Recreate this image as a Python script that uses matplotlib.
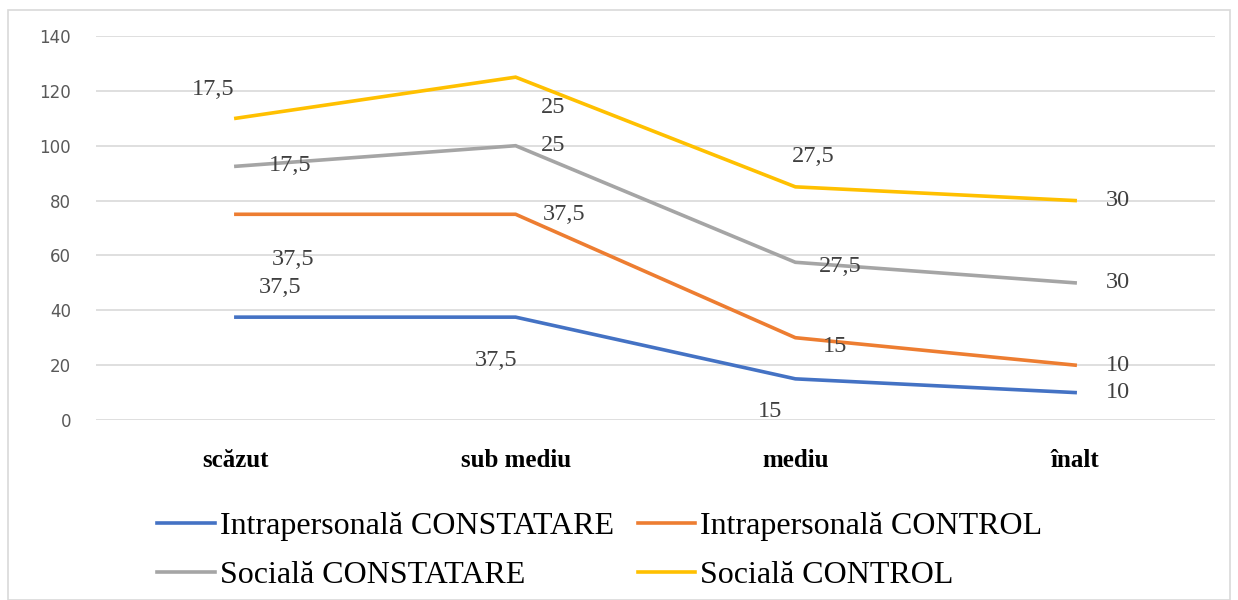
import matplotlib
matplotlib.use("Agg")
import matplotlib.pyplot as plt
from matplotlib.patches import Rectangle
import numpy as np

categories = ["scăzut", "sub mediu", "mediu", "înalt"]
series_names = ["Intrapersonală CONSTATARE", "Intrapersonală CONTROL",
                "Socială CONSTATARE", "Socială CONTROL"]
intra_constatare = [37.5, 37.5, 15, 10]
intra_control = [37.5, 37.5, 15, 10]
sociala_constatare = [17.5, 25, 27.5, 30]
sociala_control = [17.5, 25, 27.5, 30]
y_ticks = [0, 20, 40, 60, 80, 100, 120, 140]

colors = ["#4472C4", "#ED7D31", "#A5A5A5", "#FFC000"]
series = [intra_constatare, intra_control, sociala_constatare, sociala_control]

# label offsets in pixels (dx, dy) per series per category
offsets = [
    [(44, 30), (-20, -43), (-25, -33), (43, 0)],
    [(57, -45), (48, 0), (40, -9), (43, 0)],
    [(54, 1), (38, 0), (45, -4), (43, 0)],
    [(-23, 29), (38, -30), (18, 30), (43, 0)],
]

fig = plt.figure(figsize=(12.38, 6.0), dpi=100)
fig.patches.append(Rectangle((8/1238, 0.0), 1222/1238, 590/600, transform=fig.transFigure,
                             fill=False, edgecolor="#D9D9D9", linewidth=1.2))
ax = fig.add_axes([96/1238, 1-420/600, (1215-96)/1238, (420-36)/600])

x = np.arange(len(categories))
cum = np.zeros(len(categories))
handles = []
for name, vals, col, offs in zip(series_names, series, colors, offsets):
    cum = cum + np.array(vals, dtype=float)
    h, = ax.plot(x, cum, color=col, linewidth=2.6, label=name, solid_joinstyle="miter")
    handles.append(h)
    for xi, yi, v, (dx, dy) in zip(x, cum, vals, offs):
        txt = ("%g" % v).replace(".", ",")
        ax.annotate(txt, (xi, yi), xytext=(dx, dy), textcoords="offset pixels",
                    ha="center", va="center", fontsize=17.5, color="#404040",
                    family="Liberation Serif")

ax.set_xlim(-0.5, len(categories) - 0.5)
ax.set_ylim(0, 140)
ax.set_yticks(y_ticks)
ax.set_yticklabels([str(t) for t in y_ticks], fontsize=12, color="#595959",
                   family="DejaVu Sans")
ax.set_xticks(x)
ax.set_xticklabels(categories, fontsize=18, color="#000000", family="Liberation Serif",
                   fontweight="bold")
ax.tick_params(axis="both", length=0)
ax.tick_params(axis="x", pad=21)
ax.tick_params(axis="y", pad=18)
ax.grid(axis="y", color="#D9D9D9", linewidth=1.2)
ax.set_axisbelow(True)
for s in ax.spines.values():
    s.set_visible(False)

order = [0, 2, 1, 3]
leg = fig.legend(handles=[handles[i] for i in order],
                 labels=[series_names[i] for i in order], loc="center left",
                 bbox_to_anchor=(135/1238, 1-551/600), ncol=2, frameon=False,
                 prop={"family": "Liberation Serif", "size": 23},
                 handlelength=1.8, handletextpad=0.15, columnspacing=0.75,
                 labelspacing=0.62, borderpad=0.2)

fig.savefig("out.png", dpi=100)
